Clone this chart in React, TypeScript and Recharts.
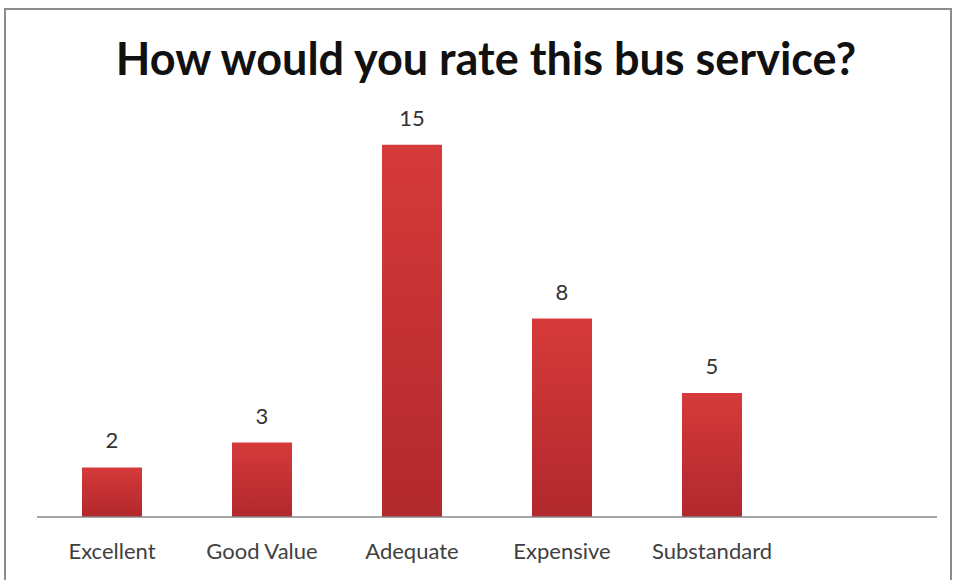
import { BarChart, Bar, XAxis, YAxis, LabelList } from "recharts";

const categories = ["Excellent", "Good Value", "Adequate", "Expensive", "Substandard", ""];
const ratings: (number | null)[] = [2, 3, 15, 8, 5, null];

const data = categories.map((name, i) => ({ name, count: ratings[i] }));

const FONT = "Lato, 'Open Sans', sans-serif";

export default function App() {
  return (
    <div style={{ position: "absolute", left: 0, top: 0, width: 957, height: 580, background: "#fff", fontFamily: FONT }}>
      <div
        style={{
          position: "absolute",
          left: 4,
          top: 8,
          width: 948,
          height: 600,
          border: "2px solid #8c8c8c",
          boxSizing: "border-box",
        }}
      />
      <div
        style={{
          position: "absolute",
          left: 0,
          width: 972,
          top: 31,
          textAlign: "center",
          fontSize: 45,
          fontWeight: 700,
          color: "#111",
        }}
      >
        How would you rate this bus service?
      </div>
      <div style={{ position: "absolute", left: 0, top: 0 }}>
        <BarChart
          width={957}
          height={580}
          data={data}
          margin={{ top: 120, right: 20, left: 37, bottom: 33 }}
          barCategoryGap={0}
        >
          <defs>
            <linearGradient id="barFill" x1="0" y1="0" x2="0" y2="1">
              <stop offset="0%" stopColor="#d63a3a" />
              <stop offset="100%" stopColor="#b1282d" />
            </linearGradient>
          </defs>
          <XAxis
            dataKey="name"
            axisLine={{ stroke: "#888", strokeWidth: 1.5 }}
            tickLine={false}
            tickMargin={20}
            interval={0}
            tick={{ fontSize: 22, fill: "#404040", fontFamily: FONT }}
          />
          <YAxis hide domain={[0, 16]} />
          <Bar dataKey="count" fill="url(#barFill)" barSize={60} isAnimationActive={false}>
            <LabelList
              dataKey="count"
              position="top"
              offset={19}
              style={{ fontSize: 22, fill: "#333", fontFamily: FONT }}
            />
          </Bar>
        </BarChart>
      </div>
    </div>
  );
}
